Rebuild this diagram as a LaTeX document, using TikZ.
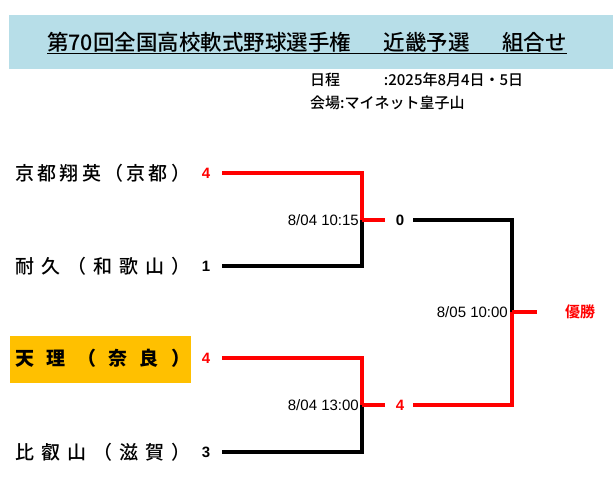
\documentclass[tikz,border=0pt]{standalone}
\usepackage{fontspec}
\setmainfont{Noto Sans CJK JP}[BoldFont={Noto Sans CJK JP Bold}]
\newfontfamily\medf{Noto Sans CJK JP Medium}
\newfontfamily\boldf{Liberation Sans}[BoldFont={* Bold}]
\begin{document}
\begin{tikzpicture}[x=1pt,y=-1pt,
  red/.style={draw={rgb,255:red,255;green,0;blue,0},line width=3.5pt},
  blk/.style={draw=black,line width=3.5pt},
  team/.style={anchor=west,inner sep=0pt,font=\medf\fontsize{19}{19}\selectfont},
  sc/.style={font=\boldf\bfseries\fontsize{15}{15}\selectfont,inner sep=0pt},
  tm/.style={anchor=east,font=\boldf\fontsize{15}{15}\selectfont,inner sep=0pt}]
\definecolor{rr}{RGB}{255,0,0}
\useasboundingbox (0,0) rectangle (613,482);
\fill[fill={rgb,255:red,183;green,222;blue,232}] (9,15) rectangle (613,69);
\node (title) at (307,43) {\medf\fontsize{21.5}{21.5}\selectfont\underline{\makebox[520pt][s]{第70回全国高校軟式野球選手権\hfill 近畿予選\hfill 組合せ}}};
\node[anchor=west,inner sep=0pt] (d1) at (310,80) {\medf\fontsize{15}{15}\selectfont\makebox[213pt][s]{日程\hfill :2025年8月4日・5日}};
\node[anchor=west,inner sep=0pt] (d2) at (310,103) {\medf\fontsize{15}{15}\selectfont 会場:マイネット皇子山};
\fill[fill={rgb,255:red,255;green,192;blue,0}] (10,336) rectangle (191,383);
\node[team] (t1) at (15,173) {\makebox[175pt][s]{京\hfill 都\hfill 翔\hfill 英\hfill （\hfill 京\hfill 都\hfill ）}};
\node[team] (t2) at (15,266) {\makebox[175pt][s]{耐\hfill 久\hfill （\hfill 和\hfill 歌\hfill 山\hfill ）}};
\node[team] (t3) at (15,358) {\makebox[175pt][s]{\bfseries 天\hfill 理\hfill （\hfill 奈\hfill 良\hfill ）}};
\node[team] (t4) at (15,452) {\makebox[175pt][s]{比\hfill 叡\hfill 山\hfill （\hfill 滋\hfill 賀\hfill ）}};
\node[sc,text=rr] (s1) at (206,173) {4};
\node[sc] (s2) at (206,266) {1};
\node[sc,text=rr] (s3) at (206,358) {4};
\node[sc] (s4) at (206,452) {3};
\coordinate (a1) at (222,173); \coordinate (a2) at (222,266);
\coordinate (a3) at (222,358); \coordinate (a4) at (222,452);
\coordinate (m1) at (362,220); \coordinate (m2) at (362,405);
\draw[red] (a1) -- (362,173) -- (m1);
\draw[blk] (a2) -- (362,266) -- (m1);
\draw[red] (m1) -- (385,220);
\draw[red] (a3) -- (362,358) -- (m2);
\draw[blk] (a4) -- (362,452) -- (m2);
\draw[red] (m2) -- (385,405);
\node[sc] (f1) at (400,220) {0};
\node[sc,text=rr] (f2) at (400,405) {4};
\coordinate (c) at (512,312);
\draw[blk] (413,220) -- (512,220) -- (c);
\draw[red] (413,405) -- (512,405) -- (c);
\draw[red] (c) -- (537,312);
\node[text=rr,font=\bfseries\fontsize{15}{15}\selectfont,inner sep=0pt] (win) at (580,312) {優勝};
\node[tm] (k1) at (359,220) {8/04 10:15};
\node[tm] (k2) at (359,405) {8/04 13:00};
\node[tm] (k3) at (508,312) {8/05 10:00};
\end{tikzpicture}
\end{document}
